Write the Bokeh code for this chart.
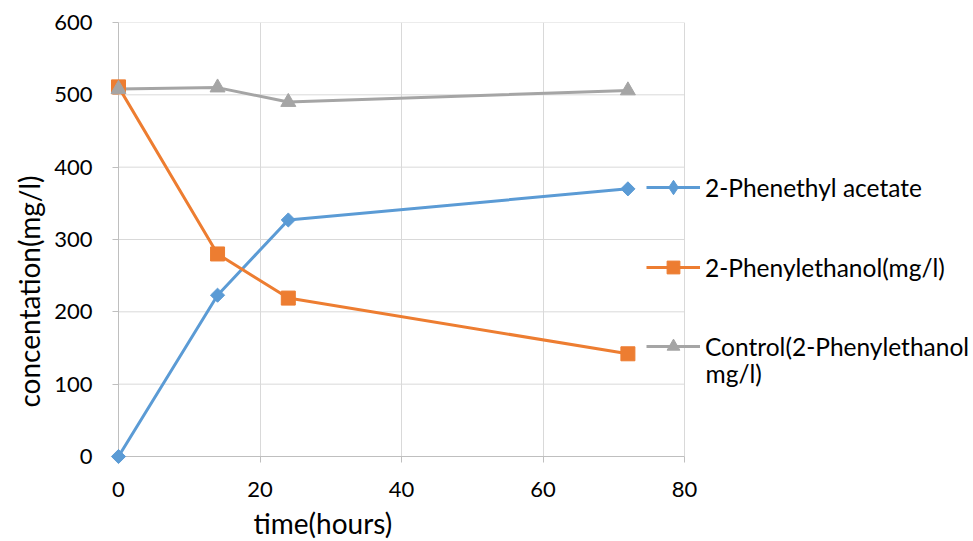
import math
from bokeh.plotting import figure
from bokeh.models import Legend, LegendItem, Label, Range1d, FixedTicker, Title
from bokeh.embed import file_html
from bokeh.resources import INLINE

time_h = [0, 14, 24, 72]
acetate = [0, 223, 327, 370]
phenylethanol = [511, 280, 219, 142]
control = [508, 510, 490, 506]

x_ticks = [0, 20, 40, 60, 80]
y_ticks = [0, 100, 200, 300, 400, 500, 600]

FONT = "Lato"
BLUE = "#5B9BD5"
ORANGE = "#ED7D31"
GRAY = "#A5A5A5"
GRID = "#D9D9D9"

px_per_unit = 566 / 80
x_end = 80 + (973 - 684) / px_per_unit

p = figure(frame_width=855, frame_height=434, output_backend="svg", toolbar_location=None,
           x_range=Range1d(0, x_end), y_range=Range1d(0, 600),
           min_border_left=118, min_border_right=0, min_border_top=22, min_border_bottom=85)
p.outline_line_color = None
p.background_fill_color = "white"
p.border_fill_color = "white"

for ax in (p.xaxis[0], p.yaxis[0]):
    ax.axis_line_color = "#BFBFBF"
    ax.axis_line_width = 1
    ax.major_tick_line_color = "#BFBFBF"
    ax.major_tick_in = 0
    ax.major_tick_out = 6
    ax.minor_tick_line_color = None
    ax.major_label_text_font = FONT
    ax.major_label_text_font_size = "22px"
    ax.major_label_text_color = "#000000"

p.xaxis.ticker = FixedTicker(ticks=x_ticks)
p.yaxis.ticker = FixedTicker(ticks=y_ticks)
p.xaxis.bounds = (x_ticks[0], x_ticks[-1])
p.xaxis.major_label_standoff = 19
p.yaxis.major_label_standoff = 20

p.add_layout(Title(text="concentation(mg/l)", align="left", offset=49,
                   text_font=FONT, text_font_size="28px", text_font_style="normal",
                   text_color="#000000", standoff=12), "left")
p.add_layout(Title(text="time(hours)", align="left", offset=135,
                   text_font=FONT, text_font_size="28px", text_font_style="normal",
                   text_color="#000000", standoff=8), "below")

p.xgrid.grid_line_color = GRID
p.xgrid.ticker = FixedTicker(ticks=x_ticks)
p.ygrid.visible = False
p.segment(x0=[x_ticks[0]] * len(y_ticks), x1=[x_ticks[-1]] * len(y_ticks),
          y0=y_ticks, y1=y_ticks, line_color=GRID, line_width=1)

l1 = p.line(time_h, acetate, line_color=BLUE, line_width=3)
l2 = p.line(time_h, phenylethanol, line_color=ORANGE, line_width=3)
l3 = p.line(time_h, control, line_color=GRAY, line_width=3)
m1 = p.scatter(time_h, acetate, marker="square", angle=math.pi / 4, size=10,
               fill_color=BLUE, line_color=BLUE, level="overlay")
k1 = p.scatter(time_h, acetate, marker="diamond", size=15, fill_color=BLUE, line_color=BLUE,
               visible=False)
m2 = p.scatter(time_h, phenylethanol, marker="square", size=14, fill_color=ORANGE,
               line_color=ORANGE, level="overlay")
m3 = p.scatter(time_h, control, marker="triangle", size=15, fill_color=GRAY,
               line_color=GRAY, level="overlay")

GH = 32

def mk_legend(label, rends, center_y_px, gh=GH):
    y = (456 - center_y_px) - gh / 2 - 2
    lg = Legend(items=[LegendItem(label=label, renderers=rends)], location=(528, y),
                padding=0, margin=0, spacing=0, glyph_width=54, glyph_height=gh,
                label_height=gh, label_standoff=5,
                label_text_font=FONT, label_text_font_size="24.5px", label_text_color="#000000",
                border_line_alpha=0, background_fill_alpha=0, inactive_fill_alpha=0)
    p.add_layout(lg, "center")

mk_legend("2-Phenethyl acetate", [l1, k1], 185, 36)
mk_legend("2-Phenylethanol(mg/l)", [l2, m2], 265)
mk_legend("Control(2-Phenylethanol", [l3, m3], 344)

p.add_layout(Label(x=80 + 21 / px_per_unit, y=(456 - 373) / (434 / 600), text="mg/l)",
                   text_font=FONT, text_font_size="24.5px",
                   text_baseline="middle", text_align="left", text_color="#000000"))

open("out.html", "w").write(file_html(p, INLINE))
